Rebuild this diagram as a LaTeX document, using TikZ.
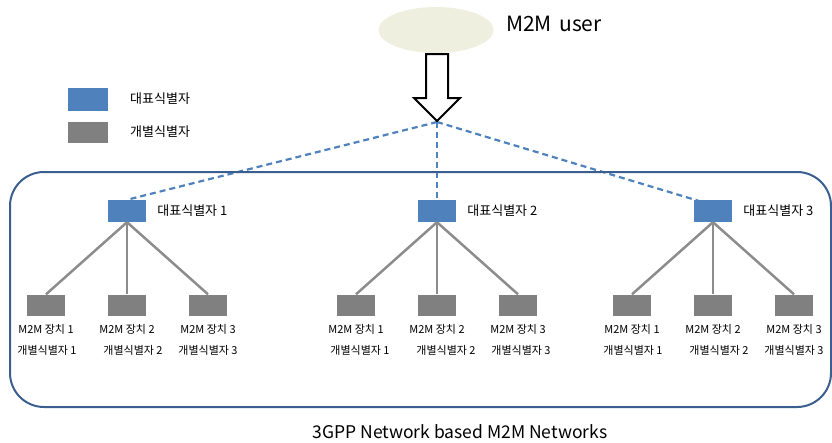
\documentclass[tikz,border=0pt]{standalone}
\usepackage{fontspec}
\setmainfont{Noto Sans CJK KR}
\usetikzlibrary{backgrounds,shapes.geometric}
\definecolor{repblue}{HTML}{4F81BD}
\definecolor{devgray}{HTML}{808080}
\definecolor{linegray}{HTML}{8C8C8C}
\definecolor{netblue}{HTML}{3A5F8F}
\definecolor{userbeige}{HTML}{EFEFE0}
\tikzset{
    repid/.style={fill=repblue, minimum width=38pt, minimum height=22pt, inner sep=0pt},
    devid/.style={fill=devgray, minimum width=38pt, minimum height=21pt, inner sep=0pt},
    replabel/.style={font=\fontsize{13}{15}\selectfont, inner sep=0pt},
    devlabel/.style={font=\fontsize{11}{13}\selectfont, inner sep=0pt},
    devline/.style={linegray, line width=2.5pt},
    repline/.style={repblue, line width=2.2pt, dash pattern=on 6pt off 4pt}
}
\newcommand{\drawdevgroup}[3]{
    % representative identifier of the group
    \node[repid] (rep#1) at (#2,211) {};
    \node[replabel, anchor=west] (replabel#1) at ([xshift=11pt]rep#1.east) {대표식별자 #1};

    % three M2M devices below it
    \foreach \d/\dx/\ix in {1/-81/1,2/0/6,3/81/0} {
        \node[devid] (dev#1\d) at (#2+\dx,305) {};
        \node[devlabel] (devname#1\d) at (#2+\dx,329) {M2M 장치 \d};
        \node[devlabel] (devid#1\d) at (#2+\dx+\ix+#3,350) {개별식별자 \d};
        \draw[devline] (rep#1.south) -- (dev#1\d.north);
    }
}

\begin{document}
\begin{tikzpicture}[x=1pt, y=-1pt]
    \useasboundingbox (0,0) rectangle (832,442);

    % M2M user
    \node[ellipse, fill=userbeige, minimum width=115pt, minimum height=46pt] (user) at (436,30) {};
    \node[anchor=west, font=\fontsize{21}{25}\selectfont, inner sep=0pt] (userlabel) at (506,24) {M2M\hspace{0.35em}user};

    % hollow arrow down to the junction
    \coordinate (hub) at (437,122);
    \draw[line width=2pt, fill=white, line join=miter]
        (426,54) -- (448,54) -- (448,98) -- (460,98) -- (437,121) -- (414,98) -- (426,98) -- cycle;

    % legend
    \node[repid, minimum width=40pt, minimum height=23pt] (legrep) at (88,99) {};
    \node[replabel, anchor=west] (legreplabel) at (130,99) {대표식별자};
    \node[devid, minimum width=40pt, minimum height=21pt] (legdev) at (88,132) {};
    \node[replabel, anchor=west] (legdevlabel) at (130,132) {개별식별자};

    % 3GPP network
    \draw[netblue, line width=2pt, rounded corners=34pt] (10,172) rectangle (831,407);
    \node[font=\fontsize{17.5}{21}\selectfont, inner sep=0pt] (netlabel) at (460,432) {3GPP Network based M2M Networks};

    \drawdevgroup{1}{127}{0}
    \drawdevgroup{2}{437}{3}
    \drawdevgroup{3}{713}{0}

    % dashed links from the junction
    \begin{pgfonlayer}{background}
        \draw[repline] (hub) -- (rep1.north);
        \draw[repline] (hub) -- (rep2.north);
        \draw[repline] (hub) -- (rep3.east);
    \end{pgfonlayer}
\end{tikzpicture}
\end{document}
